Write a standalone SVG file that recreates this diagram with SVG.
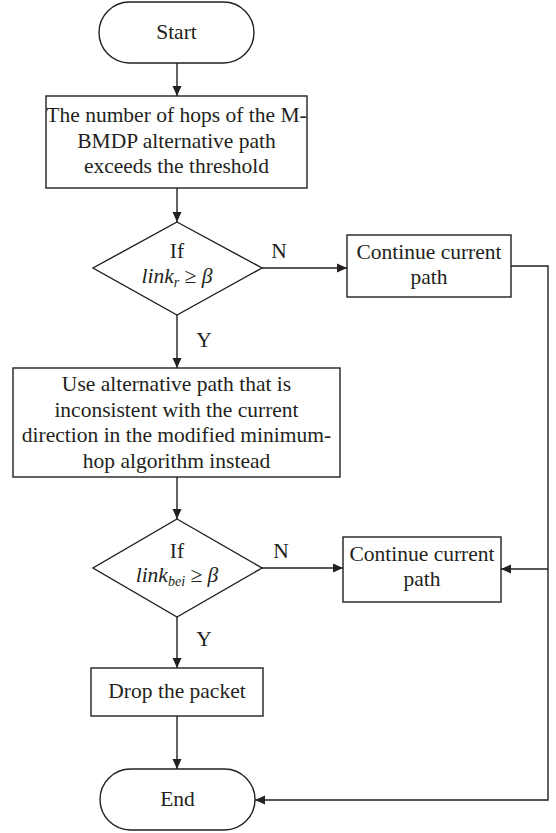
<svg xmlns="http://www.w3.org/2000/svg" width="556" height="833" viewBox="0 0 556 833">
<style>
.s{fill:#fff;stroke:#231f20;stroke-width:1.4}
.c{fill:none;stroke:#231f20;stroke-width:1.4}
text{font-family:"Liberation Serif","Times New Roman",serif;font-size:21.5px;fill:#231f20;text-anchor:middle}
.i{font-style:italic}
</style>
<defs>
<marker id="a" viewBox="0 0 10 10" refX="10" refY="5" markerWidth="10" markerHeight="10" markerUnits="userSpaceOnUse" orient="auto">
<path d="M0,0.5 L10,5 L0,9.5 Z" fill="#231f20"/>
</marker>
</defs>
<rect width="556" height="833" fill="#fff"/>
<g id="connectors">
<line class="c" x1="177" y1="63" x2="177" y2="96" marker-end="url(#a)"/>
<line class="c" x1="177" y1="188" x2="177" y2="222" marker-end="url(#a)"/>
<line class="c" x1="262" y1="268" x2="347" y2="268" marker-end="url(#a)"/>
<line class="c" x1="177" y1="315" x2="177" y2="368" marker-end="url(#a)"/>
<line class="c" x1="177" y1="477" x2="177" y2="519" marker-end="url(#a)"/>
<line class="c" x1="262" y1="568" x2="343" y2="568" marker-end="url(#a)"/>
<line class="c" x1="177" y1="617" x2="177" y2="668" marker-end="url(#a)"/>
<line class="c" x1="177" y1="716" x2="177" y2="769" marker-end="url(#a)"/>
<polyline class="c" points="511,266 548,266 548,800 255,800" marker-end="url(#a)"/>
<line class="c" x1="548" y1="569" x2="501" y2="569" marker-end="url(#a)"/>
<text x="279" y="258">N</text>
<text x="204" y="347">Y</text>
<text x="281" y="558">N</text>
<text x="204" y="646">Y</text>
</g>
<g id="start">
<rect class="s" x="99" y="2" width="155" height="61" rx="30.5"/>
<text x="176.5" y="39">Start</text>
</g>
<g id="hops">
<rect class="s" x="46" y="96" width="261" height="92"/>
<text x="176.5" y="122">The number of hops of the M-</text>
<text x="176.5" y="148">BMDP alternative path</text>
<text x="176.5" y="173">exceeds the threshold</text>
</g>
<g id="dec1">
<polygon class="s" points="177,222 262,268 177,315 93,268"/>
<text x="177" y="258">If</text>
<text x="177" y="283"><tspan class="i">link</tspan><tspan class="i" font-size="14" dy="4">r</tspan><tspan dy="-4"> ≥ </tspan><tspan class="i">β</tspan></text>
</g>
<g id="cont1">
<rect class="s" x="347" y="235" width="164" height="62"/>
<text x="429" y="259">Continue current</text>
<text x="429" y="284">path</text>
</g>
<g id="alt">
<rect class="s" x="13" y="368" width="327" height="109"/>
<text x="176.5" y="391">Use alternative path that is</text>
<text x="176.5" y="416.5">inconsistent with the current</text>
<text x="176.5" y="442">direction in the modified minimum-</text>
<text x="176.5" y="467.5">hop algorithm instead</text>
</g>
<g id="dec2">
<polygon class="s" points="177,519 262,568 177,617 93,568"/>
<text x="177" y="558">If</text>
<text x="177" y="582"><tspan class="i">link</tspan><tspan class="i" font-size="14" dy="4">bei</tspan><tspan dy="-4"> ≥ </tspan><tspan class="i">β</tspan></text>
</g>
<g id="cont2">
<rect class="s" x="343" y="537" width="158" height="65"/>
<text x="422" y="561">Continue current</text>
<text x="422" y="586">path</text>
</g>
<g id="drop">
<rect class="s" x="91" y="668" width="172" height="48"/>
<text x="177" y="698">Drop the packet</text>
</g>
<g id="end">
<rect class="s" x="100" y="769" width="155" height="61" rx="30.5"/>
<text x="177.5" y="806">End</text>
</g>
</svg>
